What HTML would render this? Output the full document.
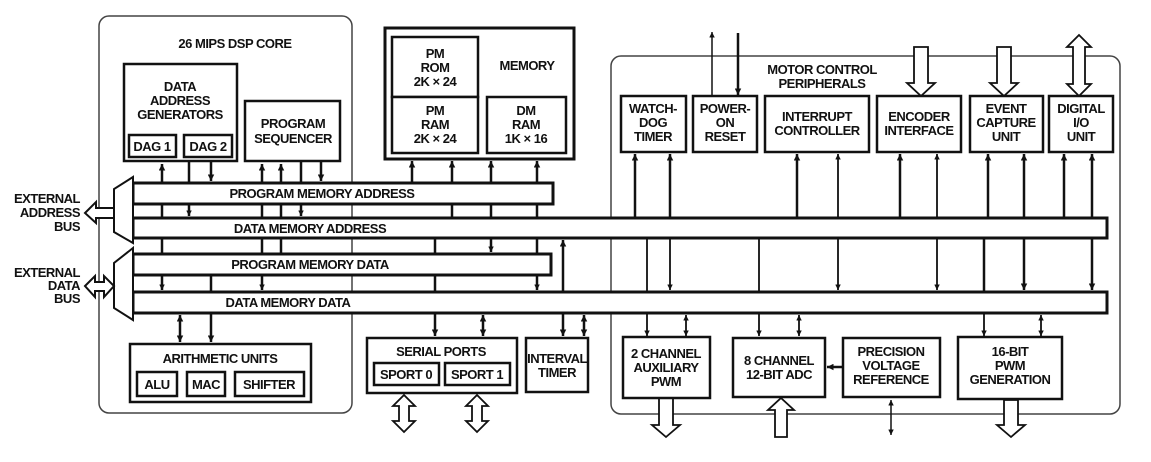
<!DOCTYPE html>
<html><head><meta charset="utf-8"><style>
html,body{margin:0;padding:0;background:#fff;}
svg{display:block;}
text{font-family:"Liberation Sans",Arial,sans-serif;font-weight:bold;font-size:13px;fill:#111;text-anchor:middle;letter-spacing:-0.5px;}
</style></head><body>
<svg width="1151" height="462" viewBox="0 0 1151 462" xmlns="http://www.w3.org/2000/svg">
<defs>
<marker id="a" viewBox="0 0 10 10" refX="10" refY="5" markerWidth="8" markerHeight="5.5" orient="auto-start-reverse" markerUnits="userSpaceOnUse"><path d="M0,0 L10,5 L0,10 z" fill="#111"/></marker>
<marker id="b" viewBox="0 0 10 10" refX="10" refY="5" markerWidth="9" markerHeight="6.5" orient="auto-start-reverse" markerUnits="userSpaceOnUse"><path d="M0,0 L10,5 L0,10 z" fill="#111"/></marker>
</defs>
<g fill="none" stroke="#222">
<rect x="99" y="16" width="253" height="397" rx="10" stroke-width="1.5" stroke="#444"/>
<rect x="611" y="56" width="509" height="358" rx="10" stroke-width="1.5" stroke="#444"/>
</g>
<g fill="#fff" stroke="#111" stroke-width="3">
<rect x="133" y="183" width="420" height="21"/>
<rect x="133" y="218" width="974" height="20"/>
<rect x="133" y="254" width="418" height="21"/>
<rect x="133" y="292" width="974" height="21"/>
</g>
<g fill="#fff" stroke="#111" stroke-width="2">
<polygon points="133,177 114,189 114,232 133,243"/>
<polygon points="133,248 114,263 114,308 133,320"/>
<polygon points="85,213 96,202 96,208 114,208 114,218 96,218 96,223"/>
<polygon points="85,286 95,276 95,282 104,282 104,276 114,286 104,297 104,291 95,291 95,297"/>
</g>
<g stroke="#111" stroke-width="2.5" fill="none">
<line x1="162" y1="182" x2="162" y2="164" marker-end="url(#b)"/>
<line x1="189" y1="161" x2="189" y2="182"/>
<line x1="211" y1="161" x2="211" y2="181" marker-end="url(#b)"/>
<line x1="262" y1="182" x2="262" y2="164" marker-end="url(#b)"/>
<line x1="281" y1="182" x2="281" y2="164" marker-end="url(#b)"/>
<line x1="301" y1="161" x2="301" y2="182"/>
<line x1="321" y1="161" x2="321" y2="181" marker-end="url(#b)"/>
<line x1="162" y1="204" x2="162" y2="218"/>
<line x1="189" y1="204" x2="189" y2="216" marker-end="url(#a)"/>
<line x1="262" y1="204" x2="262" y2="218"/>
<line x1="281" y1="204" x2="281" y2="218"/>
<line x1="301" y1="204" x2="301" y2="216" marker-end="url(#a)"/>
<line x1="162" y1="238" x2="162" y2="254"/>
<line x1="262" y1="238" x2="262" y2="254"/>
<line x1="281" y1="238" x2="281" y2="254"/>
<line x1="162" y1="275" x2="162" y2="290" marker-end="url(#a)"/>
<line x1="211" y1="275" x2="211" y2="292"/>
<line x1="262" y1="275" x2="262" y2="290" marker-end="url(#a)"/>
<line x1="180" y1="315" x2="180" y2="342" marker-start="url(#b)" marker-end="url(#b)"/>
<line x1="211" y1="313" x2="211" y2="342" marker-end="url(#b)"/>
<line x1="412" y1="182" x2="412" y2="161" marker-end="url(#b)"/>
<line x1="452" y1="182" x2="452" y2="161" marker-end="url(#b)"/>
<line x1="491" y1="182" x2="491" y2="161" marker-end="url(#b)"/>
<line x1="537" y1="182" x2="537" y2="161" marker-end="url(#b)"/>
<line x1="452" y1="204" x2="452" y2="218"/>
<line x1="491" y1="204" x2="491" y2="218"/>
<line x1="537" y1="204" x2="537" y2="218"/>
<line x1="435" y1="238" x2="435" y2="254"/>
<line x1="491" y1="238" x2="491" y2="252" marker-end="url(#a)"/>
<line x1="537" y1="238" x2="537" y2="254"/>
<line x1="435" y1="275" x2="435" y2="292"/>
<line x1="537" y1="275" x2="537" y2="290" marker-end="url(#a)"/>
<line x1="563" y1="292" x2="563" y2="240" marker-end="url(#b)"/>
<line x1="435" y1="313" x2="435" y2="336" marker-end="url(#b)"/>
<line x1="483" y1="315" x2="483" y2="336" marker-start="url(#b)" marker-end="url(#b)"/>
<line x1="563" y1="313" x2="563" y2="336" marker-end="url(#b)"/>
<line x1="584" y1="315" x2="584" y2="336" marker-start="url(#b)" marker-end="url(#b)"/>
<line x1="635" y1="217" x2="635" y2="154" marker-end="url(#b)"/>
<line x1="670" y1="217" x2="670" y2="154" marker-end="url(#b)"/>
<line x1="797" y1="217" x2="797" y2="154" marker-end="url(#b)"/>
<line x1="838" y1="217" x2="838" y2="154" marker-end="url(#a)" stroke-width="1.8"/>
<line x1="900" y1="217" x2="900" y2="154" marker-end="url(#b)"/>
<line x1="937" y1="217" x2="937" y2="154" marker-end="url(#a)" stroke-width="1.8"/>
<line x1="988" y1="217" x2="988" y2="154" marker-end="url(#b)"/>
<line x1="1024" y1="217" x2="1024" y2="154" marker-end="url(#b)"/>
<line x1="1064" y1="217" x2="1064" y2="154" marker-end="url(#b)"/>
<line x1="1092" y1="217" x2="1092" y2="154" marker-end="url(#b)"/>
<line x1="647" y1="238" x2="647" y2="292" stroke-width="1.8"/>
<line x1="670" y1="238" x2="670" y2="290" marker-end="url(#a)" stroke-width="1.8"/>
<line x1="759" y1="238" x2="759" y2="292" stroke-width="1.8"/>
<line x1="838" y1="238" x2="838" y2="290" marker-end="url(#a)" stroke-width="1.8"/>
<line x1="937" y1="238" x2="937" y2="290" marker-end="url(#a)" stroke-width="1.8"/>
<line x1="984" y1="238" x2="984" y2="292"/>
<line x1="1024" y1="238" x2="1024" y2="290" marker-end="url(#b)"/>
<line x1="1092" y1="238" x2="1092" y2="290" marker-end="url(#b)"/>
<line x1="647" y1="313" x2="647" y2="336" marker-end="url(#a)" stroke-width="1.8"/>
<line x1="686" y1="315" x2="686" y2="336" marker-start="url(#a)" marker-end="url(#a)" stroke-width="1.8"/>
<line x1="759" y1="313" x2="759" y2="336" marker-end="url(#a)" stroke-width="1.8"/>
<line x1="799" y1="315" x2="799" y2="336" marker-start="url(#a)" marker-end="url(#a)" stroke-width="1.8"/>
<line x1="984" y1="313" x2="984" y2="336" marker-end="url(#a)" stroke-width="1.8"/>
<line x1="1041" y1="315" x2="1041" y2="336" marker-start="url(#a)" marker-end="url(#a)" stroke-width="1.8"/>
<line x1="843" y1="367" x2="827" y2="367" marker-end="url(#b)"/>
<line x1="712" y1="96" x2="712" y2="32" marker-end="url(#a)" stroke-width="1.5"/>
<line x1="738" y1="33" x2="738" y2="95" marker-end="url(#b)"/>
<line x1="891" y1="400" x2="891" y2="435" marker-start="url(#a)" marker-end="url(#a)" stroke-width="1.5"/>
</g>
<g fill="#fff" stroke="#111" stroke-width="1.8">
<polygon points="404,395 415,406 409,406 409,421 415,421 404,432 393,421 399,421 399,406 393,406"/>
<polygon points="477,395 488,406 482,406 482,421 488,421 477,432 466,421 472,421 472,406 466,406"/>
<polygon points="914,47 928,47 928,83 935,83 921,96 907,83 914,83"/>
<polygon points="997,47 1011,47 1011,83 1018,83 1004,96 990,83 997,83"/>
<polygon points="1079,35 1091,47 1085,47 1085,84 1091,84 1079,96 1067,84 1073,84 1073,47 1067,47"/>
<polygon points="659,398 673,398 673,425 680,425 666,437 652,425 659,425"/>
<polygon points="781,398 794,410 787,410 787,437 775,437 775,410 768,410"/>
<polygon points="1004,400 1018,400 1018,425 1025,425 1011,437 997,425 1004,425"/>
</g>
<g fill="#fff" stroke="#111" stroke-width="2.5">
<rect x="124" y="64" width="113" height="97"/>
<rect x="129" y="135" width="47" height="22"/>
<rect x="184" y="135" width="48" height="22"/>
<rect x="245" y="101" width="95" height="60"/>
<rect x="385" y="28" width="189" height="131" stroke-width="3"/>
<rect x="392" y="37" width="86" height="60"/>
<rect x="392" y="97" width="86" height="56"/>
<rect x="487" y="97" width="79" height="56"/>
<rect x="130" y="344" width="181" height="58"/>
<rect x="137" y="372" width="40" height="24"/>
<rect x="187" y="372" width="38" height="24"/>
<rect x="235" y="372" width="69" height="24"/>
<rect x="367" y="338" width="150" height="55"/>
<rect x="374" y="363" width="65" height="22"/>
<rect x="445" y="363" width="65" height="22"/>
<rect x="526" y="338" width="62" height="54"/>
<rect x="621" y="96" width="65" height="56"/>
<rect x="693" y="96" width="64" height="56"/>
<rect x="765" y="96" width="104" height="56"/>
<rect x="877" y="96" width="84" height="56"/>
<rect x="970" y="96" width="73" height="56"/>
<rect x="1049" y="96" width="64" height="56"/>
<rect x="623" y="337" width="87" height="61"/>
<rect x="733" y="338" width="92" height="59"/>
<rect x="843" y="338" width="97" height="59"/>
<rect x="958" y="337" width="104" height="62"/>
</g>
<g>
<text x="235" y="48">26 MIPS DSP CORE</text>
<text x="180" y="91">DATA</text><text x="180" y="105">ADDRESS</text><text x="180" y="119">GENERATORS</text>
<text x="152" y="151">DAG 1</text><text x="208" y="151">DAG 2</text>
<text x="293" y="128">PROGRAM</text><text x="293" y="143">SEQUENCER</text>
<text x="435" y="58">PM</text><text x="435" y="72">ROM</text><text x="435" y="86">2K × 24</text>
<text x="435" y="115">PM</text><text x="435" y="129">RAM</text><text x="435" y="143">2K × 24</text>
<text x="527" y="70">MEMORY</text>
<text x="526" y="115">DM</text><text x="526" y="129">RAM</text><text x="526" y="143">1K × 16</text>
<text x="322" y="198">PROGRAM MEMORY ADDRESS</text>
<text x="310" y="233">DATA MEMORY ADDRESS</text>
<text x="310" y="269">PROGRAM MEMORY DATA</text>
<text x="288" y="307">DATA MEMORY DATA</text>
<text x="80" y="203" style="text-anchor:end">EXTERNAL</text><text x="80" y="217" style="text-anchor:end">ADDRESS</text><text x="80" y="231" style="text-anchor:end">BUS</text>
<text x="80" y="277" style="text-anchor:end">EXTERNAL</text><text x="80" y="290" style="text-anchor:end">DATA</text><text x="80" y="303" style="text-anchor:end">BUS</text>
<text x="220" y="363">ARITHMETIC UNITS</text>
<text x="157" y="389">ALU</text><text x="206" y="389">MAC</text><text x="269" y="389">SHIFTER</text>
<text x="441" y="356">SERIAL PORTS</text>
<text x="406" y="379">SPORT 0</text><text x="477" y="379">SPORT 1</text>
<text x="557" y="363">INTERVAL</text><text x="557" y="377">TIMER</text>
<text x="822" y="74">MOTOR CONTROL</text><text x="822" y="88">PERIPHERALS</text>
<text x="653" y="113">WATCH-</text><text x="653" y="127">DOG</text><text x="653" y="141">TIMER</text>
<text x="725" y="113">POWER-</text><text x="725" y="127">ON</text><text x="725" y="141">RESET</text>
<text x="817" y="121">INTERRUPT</text><text x="817" y="135">CONTROLLER</text>
<text x="919" y="121">ENCODER</text><text x="919" y="135">INTERFACE</text>
<text x="1006" y="113">EVENT</text><text x="1006" y="127">CAPTURE</text><text x="1006" y="141">UNIT</text>
<text x="1081" y="113">DIGITAL</text><text x="1081" y="127">I/O</text><text x="1081" y="141">UNIT</text>
<text x="666" y="358">2 CHANNEL</text><text x="666" y="372">AUXILIARY</text><text x="666" y="386">PWM</text>
<text x="779" y="365">8 CHANNEL</text><text x="779" y="379">12-BIT ADC</text>
<text x="891" y="356">PRECISION</text><text x="891" y="370">VOLTAGE</text><text x="891" y="384">REFERENCE</text>
<text x="1010" y="356">16-BIT</text><text x="1010" y="370">PWM</text><text x="1010" y="384">GENERATION</text>
</g>
</svg>
</body></html>
